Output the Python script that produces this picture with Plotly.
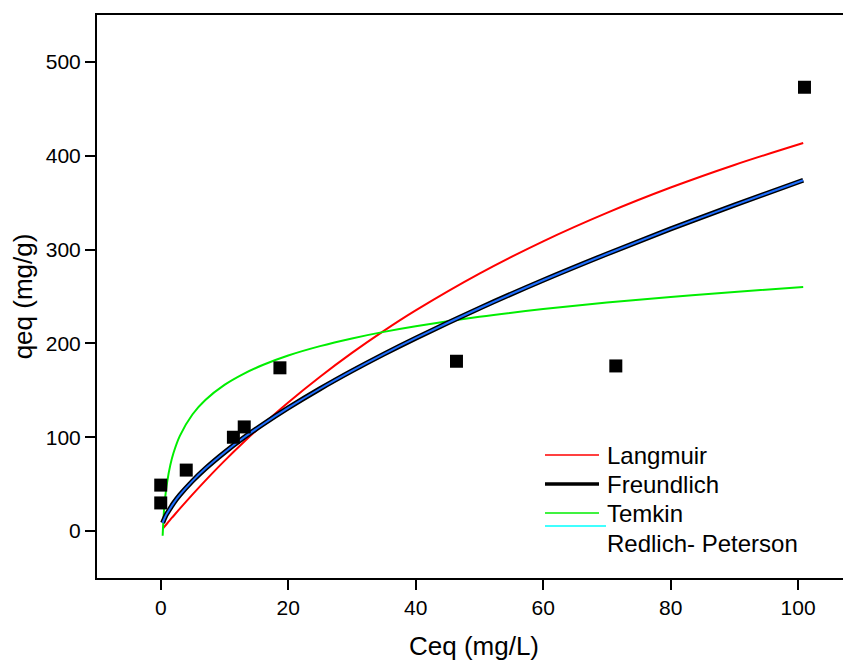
import plotly.graph_objects as go

# Experimental data
ceq_exp = [0.0, 0.0, 4.0, 11.4, 13.1, 18.7, 46.4, 71.4, 101.0]
qeq_exp = [30, 49, 65, 100, 111, 174, 181, 176, 473]

# Fitted curves
c_fit = [0.3, 0.5, 0.7, 1, 1.5, 2, 3, 5, 7, 10, 13, 16, 20, 25, 30, 35, 40, 50, 60, 70, 80, 90, 100.8]
q_langmuir = [2.5, 4.1, 5.7, 8.1, 12.2, 16.1, 23.9, 39.1, 53.8, 74.8, 94.6, 113.4, 137.1, 164.5, 189.9,
              213.4, 235.2, 274.4, 308.8, 339.1, 366.1, 390.2, 413.6]
q_freundlich = [8.7, 12.1, 15.2, 18.9, 24.3, 29.6, 38.5, 53.5, 66.6, 83.8, 99.4, 113.6, 131.3, 151.7, 170.7,
                188.6, 205.6, 237.5, 267.3, 295.3, 322.0, 347.4, 373.9]
q_temkin = [-5, 20.7, 35.9, 52.0, 70.3, 83.2, 101.5, 124.5, 139.7, 155.8, 167.6, 177.0, 187.1, 197.1, 205.3,
            212.3, 218.3, 228.4, 236.6, 243.6, 249.6, 254.9, 260.0]
q_redlich = q_freundlich

legend_names = ["Langmuir", "Freundlich", "Temkin", "Redlich- Peterson"]

FONT = "Liberation Sans, Arial, sans-serif"

fig = go.Figure()
fig.add_trace(go.Scatter(x=c_fit, y=q_langmuir, mode="lines", line=dict(color="#ff0000", width=2),
                         line_shape="spline", showlegend=False))
fig.add_trace(go.Scatter(x=c_fit, y=q_temkin, mode="lines", line=dict(color="#00ee00", width=2),
                         line_shape="spline", showlegend=False))
fig.add_trace(go.Scatter(x=c_fit, y=q_freundlich, mode="lines", line=dict(color="#000000", width=5),
                         line_shape="spline", showlegend=False))
fig.add_trace(go.Scatter(x=c_fit, y=q_redlich, mode="lines", line=dict(color="#1f6fff", width=2),
                         line_shape="spline", showlegend=False))
fig.add_trace(go.Scatter(x=ceq_exp, y=qeq_exp, mode="markers",
                         marker=dict(symbol="square", size=13, color="#000000"), showlegend=False))

# custom legend (paper coords; plot area spans px 97..851, py 15..578 on the page)
def px2x(px):
    return (px - 97) / 754.0

def py2y(py):
    return (578 - py) / 563.0

leg_lines = [
    (545, 599, 455, "#ff0000", 1.5),
    (545, 599, 484, "#000000", 3.5),
    (545, 599, 513, "#00ee00", 1.5),
    (545, 606, 526, "#00ffff", 1.5),
]
for x0, x1, yy, col, w in leg_lines:
    fig.add_shape(type="line", xref="paper", yref="paper", x0=px2x(x0), x1=px2x(x1),
                  y0=py2y(yy), y1=py2y(yy), line=dict(color=col, width=w))
for name, yy in zip(legend_names, [455, 484, 513, 543]):
    fig.add_annotation(xref="paper", yref="paper", x=px2x(605), y=py2y(yy), text=name,
                       showarrow=False, xanchor="left", yanchor="middle",
                       font=dict(family=FONT, size=24, color="black"))

fig.update_layout(
    width=843, height=653,
    margin=dict(l=89, r=0, t=7, b=83),
    plot_bgcolor="white", paper_bgcolor="white",
    font=dict(family=FONT, size=21, color="black"),
    showlegend=False,
)
fig.update_xaxes(range=[-10, 108.3], tickvals=[0, 20, 40, 60, 80, 100], showgrid=False, zeroline=False,
                 showline=True, linecolor="black", linewidth=2, mirror=True,
                 ticks="outside", ticklen=10, tickwidth=2, tickcolor="black",
                 title=dict(text="Ceq (mg/L)", font=dict(size=26), standoff=19))
fig.update_yaxes(range=[-50, 550], tickvals=[0, 100, 200, 300, 400, 500], showgrid=False, zeroline=False,
                 showline=True, linecolor="black", linewidth=2,
                 ticks="outside", ticklen=10, tickwidth=2, tickcolor="black",
                 title=dict(text="qeq (mg/g)", font=dict(size=26), standoff=20))

fig.write_html("out.html")
